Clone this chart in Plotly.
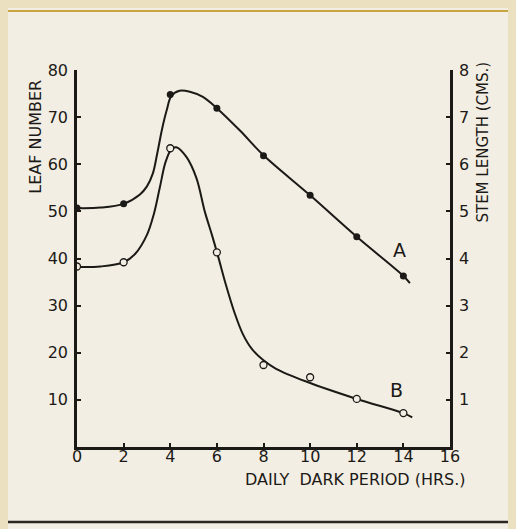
import plotly.graph_objects as go

# Measured points
hours = [0, 2, 4, 6, 8, 10, 12, 14]
leaf_A = [50.7, 51.6, 74.8, 71.9, 61.8, 53.4, 44.6, 36.3]
stem_B_x10 = [38.3, 39.2, 63.4, 41.3, 17.4, 14.8, 10.2, 7.2]

# Hand-drawn smooth curves
curve_A_x = [0, 1, 2, 2.7, 3.0, 3.25, 3.45, 3.65, 3.85, 4.05, 4.4, 4.84, 5.4, 6.0, 7.0, 8, 10, 12, 14, 14.28]
curve_A_y = [50.7, 50.8, 51.6, 53.6, 55.3, 58.0, 62.5, 67.5, 71.5, 74.5, 75.6, 75.4, 74.3, 71.9, 67.1, 61.9, 53.4, 44.6, 36.3, 34.8]
curve_B_x = [0, 1, 2, 2.5, 3.0, 3.3, 3.55, 3.8, 4.05, 4.26, 4.7, 5.12, 5.48, 5.8, 6.05, 6.4, 6.75, 7.11, 7.5, 8.0, 8.54, 9.83, 12, 14, 14.38]
curve_B_y = [38.2, 38.3, 39.2, 41.0, 45.0, 49.5, 55.0, 60.5, 63.2, 63.6, 61.5, 57.1, 50.0, 44.8, 40.5, 34.2, 28.6, 24.0, 20.8, 18.4, 16.6, 13.9, 10.2, 7.2, 6.3]

x_ticks = [0, 2, 4, 6, 8, 10, 12, 14, 16]
left_ticks = [10, 20, 30, 40, 50, 60, 70, 80]
right_ticks = [1, 2, 3, 4, 5, 6, 7, 8]

INK = "#1c1a17"
PAPER = "#f3eee3"
OUTER = "#ebe0bf"
FONT = "DejaVu Sans"

fig = go.Figure()
for cx, cy in ((curve_A_x, curve_A_y), (curve_B_x, curve_B_y)):
    fig.add_trace(go.Scatter(x=cx, y=cy, mode="lines",
                             line=dict(color=INK, width=2, shape="spline", smoothing=1.0),
                             hoverinfo="skip", showlegend=False))
fig.add_trace(go.Scatter(x=hours, y=leaf_A, mode="markers", name="A",
                         marker=dict(color=INK, size=7, symbol="circle"),
                         showlegend=False))
fig.add_trace(go.Scatter(x=hours, y=stem_B_x10, mode="markers", name="B",
                         marker=dict(color=PAPER, size=7, symbol="circle",
                                     line=dict(color=INK, width=1.3)),
                         showlegend=False))
fig.add_trace(go.Scatter(x=[], y=[], yaxis="y2", showlegend=False))

axis_common = dict(showgrid=False, zeroline=False, showline=True, linecolor=INK, linewidth=2.5,
                   ticks="inside", ticklen=4, tickwidth=2, tickcolor=INK,
                   tickfont=dict(size=16, color=INK))

fig.update_layout(
    width=516, height=529,
    margin=dict(l=69.3, r=74, t=62, b=90),
    paper_bgcolor=PAPER,
    plot_bgcolor="rgba(0,0,0,0)",
    font=dict(family=FONT, color=INK),
    xaxis=dict(range=[0, 16], tickvals=x_ticks, ticktext=[str(v) for v in x_ticks],
               ticklabelstandoff=-7, **axis_common),
    yaxis=dict(range=[0, 80], tickvals=left_ticks, ticktext=[str(v) for v in left_ticks],
               ticklabelstandoff=3, **axis_common),
    yaxis2=dict(range=[0, 8], overlaying="y", side="right", tickvals=right_ticks,
                ticktext=[str(v) for v in right_ticks], ticklabelstandoff=3, **axis_common),
    shapes=[
        dict(type="line", xref="paper", yref="paper", x0=-0.186, x1=1.3, y0=1.1565, y1=1.1565,
             line=dict(color="#c9a640", width=2), layer="below"),
        dict(type="line", xref="paper", yref="paper", x0=-0.186, x1=1.3, y0=-0.199, y1=-0.199,
             line=dict(color="#2a2622", width=2.5), layer="below"),
    ],
    annotations=[
        dict(text="LEAF NUMBER", xref="paper", yref="paper", x=-0.1135, y=0.822,
             textangle=-90, showarrow=False, font=dict(size=16, color=INK),
             xanchor="center", yanchor="middle"),
        dict(text="STEM LENGTH (CMS.)", xref="paper", yref="paper", x=1.0886, y=0.8077,
             textangle=-90, showarrow=False, font=dict(size=15, color=INK),
             xanchor="center", yanchor="middle"),
        dict(text="DAILY\u00a0\u00a0DARK PERIOD (HRS.)", xref="paper", yref="paper",
             x=1.048, y=-0.0875, showarrow=False, font=dict(size=16, color=INK),
             xanchor="right", yanchor="middle"),
        dict(text="A", x=13.85, y=41.8, showarrow=False, font=dict(size=19, color=INK)),
        dict(text="B", x=13.72, y=12.1, showarrow=False, font=dict(size=19, color=INK)),
    ],
)

fig.write_html("out.html", post_script="document.body.style.background='%s';" % OUTER)
